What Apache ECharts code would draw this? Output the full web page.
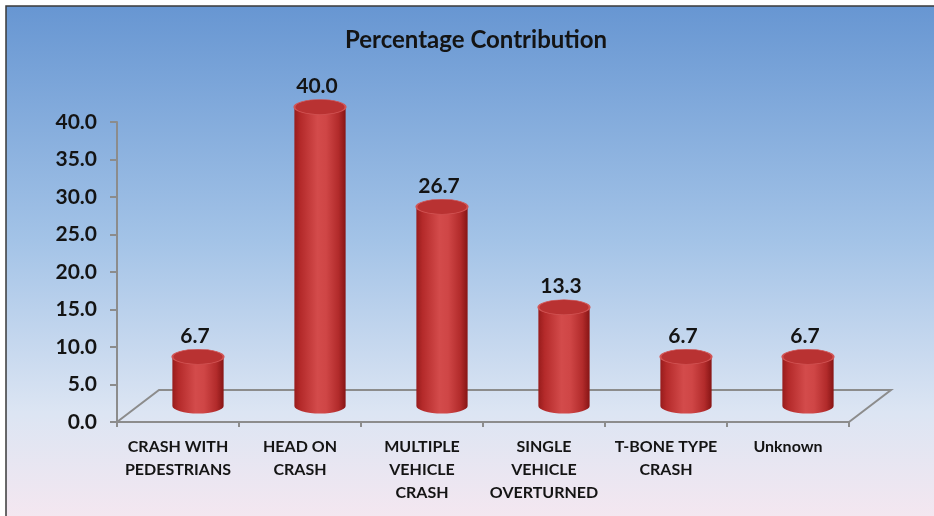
<!DOCTYPE html>
<html>
<head>
<meta charset="utf-8">
<script src="https://cdn.jsdelivr.net/npm/echarts@6/dist/echarts.min.js"></script>
<style>
  html, body { margin: 0; padding: 0; background: #fff; }
  #chart { width: 934px; height: 516px; }
</style>
</head>
<body>
<div id="chart"></div>
<script>
const categories = [
  'CRASH WITH\nPEDESTRIANS',
  'HEAD ON\nCRASH',
  'MULTIPLE\nVEHICLE\nCRASH',
  'SINGLE\nVEHICLE\nOVERTURNED',
  'T-BONE TYPE\nCRASH',
  'Unknown'
]
const values = [6.7, 40.0, 26.7, 13.3, 6.7, 6.7]
const yMin = 0
const yMax = 40
const yStep = 5

const FONT = 'Lato'
const DEPTH_X = 42
const DEPTH_Y = 32
const gridColor = '#8c8c8c'

const chart = echarts.init(document.getElementById('chart'))

const bodyFill = new echarts.graphic.LinearGradient(0, 0, 1, 0, [
  { offset: 0, color: '#981c1c' },
  { offset: 0.12, color: '#b42a2a' },
  { offset: 0.45, color: '#d34b4b' },
  { offset: 0.62, color: '#cf4646' },
  { offset: 0.86, color: '#b22b2b' },
  { offset: 1, color: '#871515' }
])

function renderFloor (params, api) {
  const cs = params.coordSys
  const x0 = cs.x
  const x1 = cs.x + cs.width
  const yb = cs.y + cs.height
  return {
    type: 'polyline',
    shape: {
      points: [
        [x0, yb],
        [x0 + DEPTH_X, yb - DEPTH_Y],
        [x1 + DEPTH_X, yb - DEPTH_Y],
        [x1, yb]
      ]
    },
    style: { stroke: gridColor, lineWidth: 2, fill: null }
  }
}

function renderCylinder (params, api) {
  const idx = api.value(0)
  const v = api.value(1)
  const top = api.coord([idx, v])
  const base = api.coord([idx, 0])
  const w = api.size([1, 0])[0] * 0.42
  const rx = w / 2
  const ry = 7.5
  const cx = top[0] + DEPTH_X / 2 - 1
  const yTop = top[1] - 15
  const yBot = base[1] - 16
  return {
    type: 'group',
    children: [
      {
        type: 'path',
        shape: {
          pathData: 'M' + (cx - rx) + ',' + yTop +
            ' L' + (cx - rx) + ',' + yBot +
            ' A' + rx + ',' + ry + ' 0 0 0 ' + (cx + rx) + ',' + yBot +
            ' L' + (cx + rx) + ',' + yTop + ' Z'
        },
        style: { fill: bodyFill }
      },
      {
        type: 'circle',
        x: cx,
        y: yTop,
        scaleY: ry / rx,
        shape: { cx: 0, cy: 0, r: rx },
        style: { fill: '#b93232', stroke: '#d25555', lineWidth: 2 }
      },
      {
        type: 'text',
        x: cx - 3,
        y: yTop - 21,
        style: {
          text: v.toFixed(1),
          align: 'center',
          verticalAlign: 'middle',
          fontFamily: FONT,
          fontWeight: 'bold',
          fontSize: 21,
          fill: '#141414'
        }
      }
    ]
  }
}

const option = {
  backgroundColor: '#ffffff',
  animation: false,
  graphic: [
    {
      type: 'rect',
      z: -10,
      silent: true,
      shape: { x: 6, y: 6, width: 940, height: 520 },
      style: {
        fill: new echarts.graphic.LinearGradient(0, 0, 0, 1, [
          { offset: 0, color: '#6796d2' },
          { offset: 0.45, color: '#a3c3e7' },
          { offset: 0.78, color: '#dce5f3' },
          { offset: 1, color: '#f6e7f0' }
        ]),
        stroke: '#3a3a3a',
        lineWidth: 1.5
      }
    },
    {
      type: 'text',
      x: 476,
      y: 40,
      style: {
        text: 'Percentage Contribution',
        align: 'center',
        verticalAlign: 'middle',
        fontFamily: FONT,
        fontWeight: 'bold',
        fontSize: 24,
        fill: '#141414'
      }
    }
  ],
  grid: { left: 117, right: 85, top: 122, bottom: 94 },
  xAxis: {
    type: 'category',
    data: categories,
    axisLine: { lineStyle: { color: gridColor, width: 2 } },
    axisTick: { show: true, length: 5, alignWithLabel: false, lineStyle: { color: gridColor, width: 2 } },
    axisLabel: {
      interval: 0,
      margin: 13,
      color: '#141414',
      fontFamily: FONT,
      fontWeight: 'bold',
      fontSize: 16,
      lineHeight: 23
    }
  },
  yAxis: {
    type: 'value',
    min: yMin,
    max: yMax,
    interval: yStep,
    splitLine: { show: false },
    axisLine: { show: true, lineStyle: { color: gridColor, width: 2 } },
    axisTick: { show: true, length: 7, lineStyle: { color: gridColor, width: 2 } },
    axisLabel: {
      margin: 20,
      color: '#141414',
      fontFamily: FONT,
      fontWeight: 'bold',
      fontSize: 21,
      formatter: v => v.toFixed(1)
    }
  },
  series: [
    {
      type: 'custom',
      z: 1,
      silent: true,
      renderItem: renderFloor,
      data: [[0, 0]]
    },
    {
      type: 'custom',
      z: 2,
      renderItem: renderCylinder,
      encode: { x: 0, y: 1 },
      data: values.map((v, i) => [i, v])
    }
  ]
}

chart.setOption(option)
</script>
</body>
</html>
